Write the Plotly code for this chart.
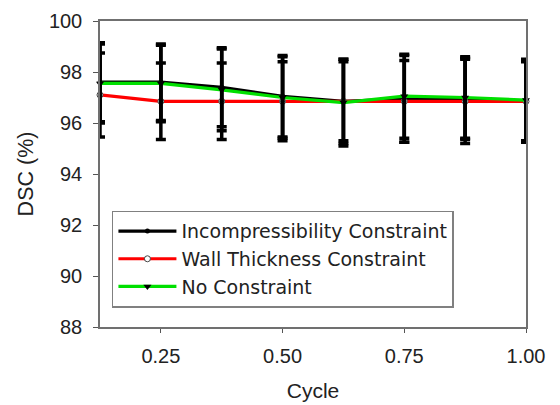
import plotly.graph_objects as go

cycle = [0.125, 0.25, 0.375, 0.5, 0.625, 0.75, 0.875, 1.0]
tick_vals = [0.25, 0.5, 0.75, 1.0]
tick_text = ["0.25", "0.50", "0.75", "1.00"]

incomp = [97.6, 97.6, 97.4, 97.05, 96.85, 96.95, 96.95, 96.85]
incomp_err = [1.55, 1.5, 1.55, 1.6, 1.65, 1.7, 1.6, 1.55]

wall = [97.1, 96.85, 96.85, 96.85, 96.85, 96.85, 96.85, 96.85]
wall_err = [1.65, 1.5, 1.5, 1.55, 1.55, 1.6, 1.65, 1.6]

nocon = [97.55, 97.55, 97.3, 97.0, 96.8, 97.05, 97.0, 96.9]
nocon_err = [1.55, 1.5, 1.6, 1.6, 1.7, 1.65, 1.6, 1.6]

names = ["Incompressibility Constraint", "Wall Thickness Constraint", "No Constraint"]
colors = ["#000000", "#ff0000", "#00e000"]
series = [incomp, wall, nocon]
errors = [incomp_err, wall_err, nocon_err]
markers = [
    dict(symbol="circle", size=5, color="#000000"),
    dict(symbol="circle", size=6, color="#ffffff", line=dict(color="#444444", width=1)),
    dict(symbol="triangle-down", size=7, color="#000000"),
]

fig = go.Figure()

# lines with markers (legend entries)
for n, c, y, m in zip(names, colors, series, markers):
    fig.add_trace(go.Scatter(x=cycle, y=y, mode="lines+markers", name=n,
                             line=dict(color=c, width=3.2), marker=m, cliponaxis=False))

# error bars (black, drawn on top of the lines)
for y, e in zip(series, errors):
    fig.add_trace(go.Scatter(x=cycle, y=y, mode="markers", marker=dict(size=4, color="#000000"),
                             error_y=dict(type="data", array=e, visible=True, color="#000000",
                                          thickness=3.5, width=5),
                             showlegend=False, cliponaxis=False, hoverinfo="skip"))

fig.update_layout(
    width=560, height=405,
    margin=dict(l=100, r=34, t=21, b=78),
    paper_bgcolor="white", plot_bgcolor="white",
    font=dict(family="Liberation Sans, Arial", size=20, color="#222222"),
    showlegend=True,
    legend=dict(x=0.028, y=0.38, xanchor="left", yanchor="top",
                bgcolor="white", bordercolor="#808080", borderwidth=1.5,
                font=dict(family="DejaVu Sans", size=19, color="#222222"), tracegroupgap=0,
                itemwidth=58),
    xaxis=dict(range=[0.125, 1.0], tickvals=tick_vals, ticktext=tick_text,
               showgrid=False, zeroline=False, showline=True, linecolor="#707070",
               linewidth=1.5, mirror=True, ticks="outside", ticklen=4, tickcolor="#555555",
               ticklabelstandoff=6, automargin=False,
               title=dict(text="Cycle", font=dict(size=21), standoff=18)),
    yaxis=dict(range=[88, 100], dtick=2, showgrid=False, zeroline=False, showline=True,
               linecolor="#707070", linewidth=1.5, mirror=True, ticks="outside", ticklen=5,
               tickcolor="#555555", ticklabelstandoff=7, automargin=False,
               title=dict(text="DSC (%)", font=dict(size=21.5), standoff=9)),
)

fig.write_html("out.html")
